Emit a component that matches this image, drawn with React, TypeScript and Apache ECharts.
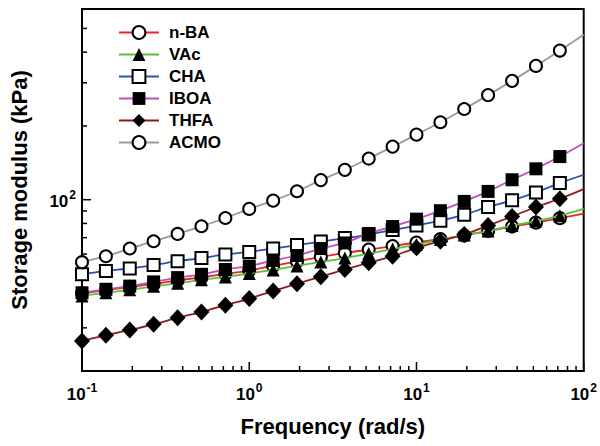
import React, { useEffect, useRef } from "react";
import * as echarts from "echarts";

// Frequencies (rad/s) of measured points
const frequencies = [0.1, 0.139, 0.193, 0.268, 0.373, 0.518, 0.72, 1, 1.39, 1.93, 2.68, 3.73, 5.18, 7.2, 10, 13.9, 19.3, 26.8, 37.3, 51.8, 72];
// Frequency where the fitted curves end
const fitEndFrequency = 100;

// Storage modulus (kPa)
const nBA = [41.5, 42.7, 44.1, 45.3, 46.9, 48.2, 49.8, 51.4, 53.7, 56.0, 58.4, 60.6, 62.6, 64.7, 66.9, 69.1, 71.4, 74.5, 77.7, 80.6, 84.1];
const nBAEnd = 87.7;
const vac = [40.5, 41.7, 42.9, 44.3, 45.6, 47.1, 48.4, 50.0, 51.7, 53.7, 55.7, 57.8, 60.3, 62.9, 65.6, 68.8, 71.7, 74.5, 78.4, 81.8, 86.1];
const vacEnd = 91.7;
const cha = [49.6, 51.2, 52.4, 54.1, 56.1, 57.8, 59.8, 61.2, 63.2, 65.3, 67.5, 69.7, 72.1, 75.2, 78.4, 82.1, 86.9, 93.4, 99.4, 107.1, 116.9];
const chaEnd = 126.4;
const iboa = [41.7, 43.1, 44.4, 46.2, 48.1, 49.6, 51.9, 53.6, 56.5, 59.2, 63.2, 66.6, 72.8, 77.7, 83.3, 90.2, 98.4, 108.1, 120.6, 133.7, 150];
const iboaEnd = 170;
const thfa = [26.5, 28.0, 29.4, 31.0, 33.0, 34.8, 37.1, 39.5, 42.4, 45.4, 48.5, 51.9, 55.3, 58.8, 63.6, 67.7, 72.1, 78.4, 85.5, 93.4, 100.9];
const thfaEnd = 110.5;
const acmo = [55.6, 58.8, 63.2, 67.7, 72.5, 77.9, 84.2, 91.7, 99.1, 108.3, 120.2, 132.4, 147.2, 164.7, 184.3, 207, 234.4, 267.2, 305.5, 351.6, 406];
const acmoEnd = 471.6;

const seriesNames = ["n-BA", "VAc", "CHA", "IBOA", "THFA", "ACMO"];

// Axis ticks
const xMajorTicks = [0.1, 1, 10, 100];
const xMinorTicks = [0.2, 0.3, 0.4, 0.5, 0.6, 0.7, 0.8, 0.9, 2, 3, 4, 5, 6, 7, 8, 9, 20, 30, 40, 50, 60, 70, 80, 90];
const yMajorTicks = [100];
const yMinorTicks = [30, 40, 50, 60, 70, 80, 90, 200, 300, 400, 500];

const X_MIN = 0.1;
const X_MAX = 100;
const Y_MIN = 20;
const Y_MAX = 600;

const FONT = "'Liberation Sans', Arial, Helvetica, sans-serif";

const styles: Record<string, { color: string; symbol: string; size: number | number[]; empty: boolean }> = {
  "n-BA": { color: "#e8262a", symbol: "emptyCircle", size: 12, empty: true },
  VAc: { color: "#5cbf3a", symbol: "triangle", size: 13, empty: false },
  CHA: { color: "#2d4fb5", symbol: "emptyRect", size: 12, empty: true },
  IBOA: { color: "#c24fb6", symbol: "rect", size: 13, empty: false },
  THFA: { color: "#8e1b1b", symbol: "diamond", size: [16, 17], empty: false },
  ACMO: { color: "#9a9a9a", symbol: "emptyCircle", size: 12, empty: true },
};

const values: Record<string, number[]> = { "n-BA": nBA, VAc: vac, CHA: cha, IBOA: iboa, THFA: thfa, ACMO: acmo };
const endValues: Record<string, number> = { "n-BA": nBAEnd, VAc: vacEnd, CHA: chaEnd, IBOA: iboaEnd, THFA: thfaEnd, ACMO: acmoEnd };

function powerLabel(v: number): string {
  const l = Math.log10(v);
  const e = Math.round(l);
  if (Math.abs(l - e) > 1e-6) return "";
  return `{b|10}{s|${e}}`;
}

const labelRich = {
  b: { fontSize: 17, fontWeight: "bold", fontFamily: FONT, color: "#000", lineHeight: 21, verticalAlign: "bottom" },
  s: { fontSize: 12, fontWeight: "bold", fontFamily: FONT, color: "#000", lineHeight: 21, verticalAlign: "top", padding: [0, 0, 0, 1] },
};

export default function App() {
  const ref = useRef<HTMLDivElement>(null);

  useEffect(() => {
    if (!ref.current) return;
    const chart = echarts.init(ref.current, null, { renderer: "svg" });

    const tickData: number[][] = [];
    xMinorTicks.forEach((v) => tickData.push([v, Y_MIN, 0]));
    xMajorTicks.forEach((v) => tickData.push([v, Y_MIN, 1]));
    yMinorTicks.forEach((v) => tickData.push([X_MIN, v, 2]));
    yMajorTicks.forEach((v) => tickData.push([X_MIN, v, 3]));

    const dataSeries = seriesNames.map((name, idx) => {
      const st = styles[name];
      const vals = values[name];
      const data: any[] = frequencies.map((f, i) => [f, vals[i]]);
      data.push({ value: [fitEndFrequency, endValues[name]], symbol: "none" });
      return {
        type: "line",
        name,
        data,
        symbol: st.symbol,
        symbolSize: st.size,
        showAllSymbol: true,
        smooth: 0.25,
        clip: false,
        z: 3 + idx,
        lineStyle: { color: st.color, width: 1.8 },
        itemStyle: { color: "#000", borderColor: "#000", borderWidth: st.empty ? 2 : 0 },
        emphasis: { disabled: true },
      };
    });

    chart.setOption({
      animation: false,
      backgroundColor: "#fff",
      grid: { left: 82, right: 16, top: 9, bottom: 75, show: true, borderColor: "#000", borderWidth: 2, backgroundColor: "transparent" },
      legend: {
        data: seriesNames,
        orient: "vertical",
        left: 118,
        top: 24,
        padding: 0,
        itemWidth: 40,
        itemHeight: 16,
        itemGap: 5,
        selectedMode: false,
        textStyle: { fontSize: 17, fontWeight: "bold", fontFamily: FONT, color: "#000", padding: [0, 0, 0, 5] },
      },
      xAxis: {
        type: "log",
        logBase: 10,
        min: X_MIN,
        max: X_MAX,
        name: "Frequency (rad/s)",
        nameLocation: "middle",
        nameGap: 44,
        nameTextStyle: { fontSize: 22, fontWeight: "bold", fontFamily: FONT, color: "#000" },
        axisLine: { show: false },
        axisTick: { show: false },
        splitLine: { show: false },
        minorTick: { show: false },
        axisLabel: { formatter: powerLabel, rich: labelRich, margin: 11, showMinLabel: true, showMaxLabel: true, hideOverlap: false },
      },
      yAxis: {
        type: "log",
        logBase: 10,
        min: Y_MIN,
        max: Y_MAX,
        name: "Storage modulus (kPa)",
        nameLocation: "middle",
        nameGap: 52,
        nameTextStyle: { fontSize: 22, fontWeight: "bold", fontFamily: FONT, color: "#000" },
        axisLine: { show: false },
        axisTick: { show: false },
        splitLine: { show: false },
        minorTick: { show: false },
        axisLabel: { formatter: powerLabel, rich: labelRich, margin: 6, hideOverlap: false },
      },
      series: [
        {
          type: "custom",
          name: "ticks",
          coordinateSystem: "cartesian2d",
          data: tickData,
          encode: { x: 0, y: 1 },
          z: 1,
          silent: true,
          clip: false,
          renderItem: (params: any, api: any) => {
            const kind = api.value(2);
            const p = api.coord([api.value(0), api.value(1)]);
            const major = kind === 1 || kind === 3;
            const len = major ? 9 : 5;
            const shape =
              kind < 2
                ? { x1: p[0], y1: p[1], x2: p[0], y2: p[1] - len }
                : { x1: p[0], y1: p[1], x2: p[0] + len, y2: p[1] };
            return { type: "line", shape, style: { stroke: "#000", lineWidth: 1.5 } };
          },
        },
        ...dataSeries,
      ],
    });

    return () => chart.dispose();
  }, []);

  return <div ref={ref} style={{ position: "fixed", left: 0, top: 0, width: 600, height: 446 }} />;
}
